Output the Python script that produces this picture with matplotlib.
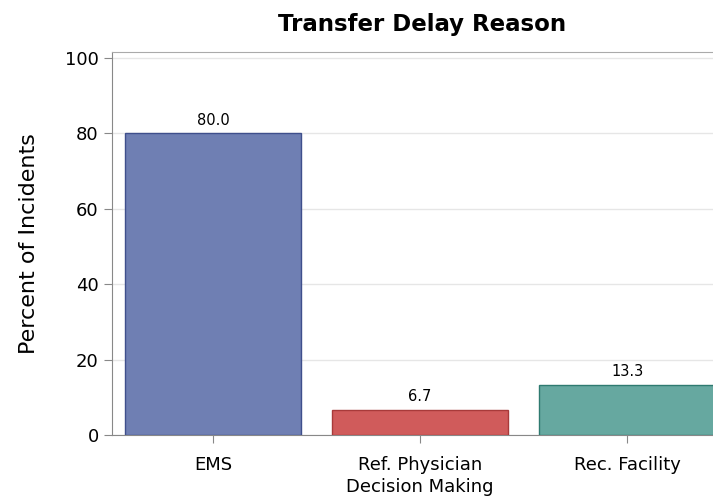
import matplotlib
matplotlib.use("Agg")
import matplotlib.pyplot as plt

categories = ["EMS", "Ref. Physician\nDecision Making", "Rec. Facility"]
values = [80.0, 6.7, 13.3]
labels = ["80.0", "6.7", "13.3"]
face_colors = ["#6F7FB3", "#D05B5B", "#66A8A0"]
edge_colors = ["#3F4F8C", "#A83A3A", "#2E7A70"]
yticks = [0, 20, 40, 60, 80, 100]

plt.rcParams["font.family"] = ["DejaVu Sans"]

fig = plt.figure(figsize=(7.13, 4.98), dpi=100)
ax = fig.add_axes([112/713, 1-435/498, 1-112/713, (435-52)/498])

x = list(range(len(categories)))
bars = ax.bar(x, values, width=0.85, color=face_colors, edgecolor=edge_colors, linewidth=1, zorder=3)
for b, lab in zip(bars, labels):
    ax.annotate(lab, (b.get_x() + b.get_width()/2, b.get_height()), xytext=(0, 4),
                textcoords="offset points", ha="center", va="bottom", fontsize=10.5)

ax.set_xlim(-0.488, 2.415)
ax.set_ylim(0, 101.6)
ax.set_yticks(yticks)
ax.set_xticks(x)
ax.set_xticklabels(categories, fontsize=13, linespacing=1.3)
ax.tick_params(axis="y", labelsize=13, length=6, color="#888888")
ax.tick_params(axis="x", length=6, color="#888888", pad=9)
ax.yaxis.grid(True, color="#E6E6E6", linewidth=1, zorder=0)
ax.set_axisbelow(True)
for s in ["left", "bottom"]:
    ax.spines[s].set_color("#888888")
ax.spines["top"].set_color("#AAAAAA")
ax.spines["right"].set_visible(False)
ax.set_ylabel("Percent of Incidents", fontsize=16, labelpad=19)
ax.set_title("Transfer Delay Reason", fontsize=16.5, fontweight="bold", x=0.516, pad=15)

fig.savefig("out.png", dpi=100)
